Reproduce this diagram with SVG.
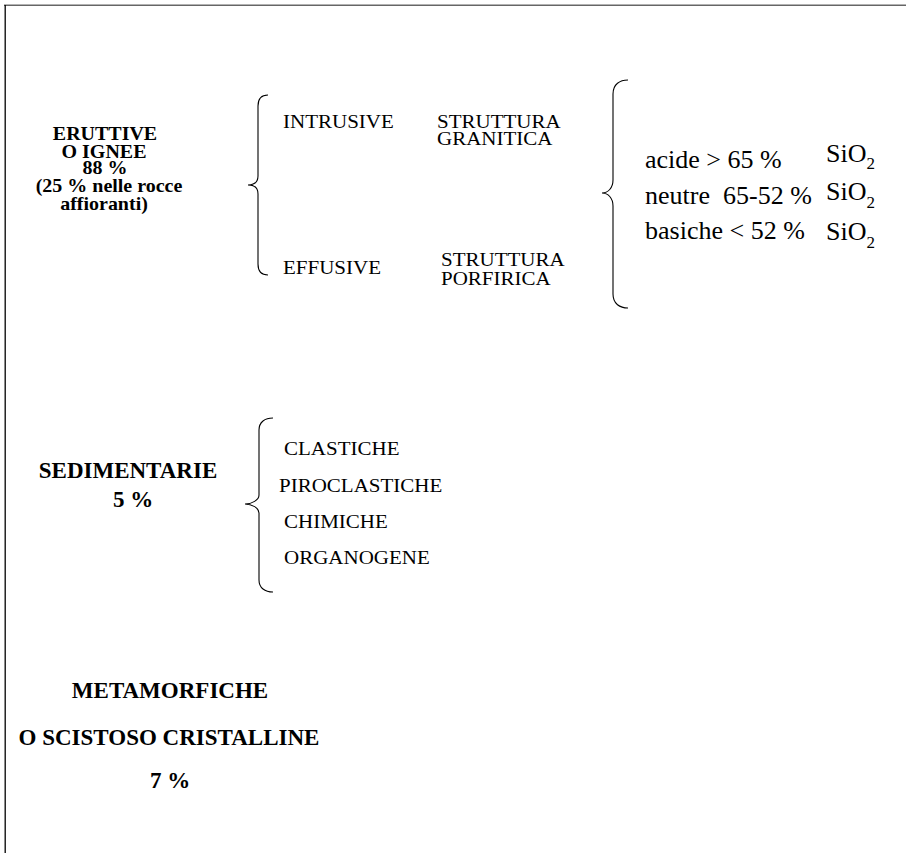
<svg xmlns="http://www.w3.org/2000/svg" width="906" height="853" viewBox="0 0 906 853">
<style>
text{font-family:"Liberation Serif","Times New Roman",serif;fill:#000}
.b{font-weight:bold;font-size:20px;text-anchor:middle}
.bl{font-weight:bold;font-size:23px;text-anchor:middle}
.r{font-size:21px}
.s{font-size:26px}
.sub{font-size:17px}
.brace{fill:none;stroke:#000;stroke-width:1.1}
</style>
<rect width="906" height="853" fill="#fff"/>
<g id="frame">
<line x1="4" y1="5.3" x2="906" y2="5.3" stroke="#666" stroke-width="1.4"/>
<line x1="5.2" y1="5" x2="5.2" y2="853" stroke="#000" stroke-width="1.3"/>
</g>
<g id="connectors">
<path class="brace" d="M268,95 C262,95 258,98 258,106 L258,176 C258,182 254,185 248,185 C254,185 258,188 258,194 L258,264 C258,272 262,275 268,275"/>
<path class="brace" d="M628,80 C620,80 613,84 613,94 L613,180 C613,188 608,193 602,193 C608,193 613,198 613,206 L613,294 C613,304 620,308 628,308"/>
<path class="brace" d="M273,418 C265,418 259,422 259,430 L259,495 C259,500 252,504 245,504 C252,504 259,508 259,513 L259,580 C259,588 265,592 273,592"/>
</g>
<g id="eruttive">
<text class="b" transform="translate(105,140) scale(1,0.92)">ERUTTIVE</text>
<text class="b" transform="translate(104,157.5) scale(1,0.92)">O IGNEE</text>
<text class="b" transform="translate(105,174) scale(1,0.92)">88 %</text>
<text class="b" transform="translate(109,192) scale(1,0.92)">(25 % nelle rocce</text>
<text class="b" transform="translate(104,210) scale(1,0.92)">affioranti)</text>
</g>
<g id="intrusive">
<text class="r" transform="translate(283,128) scale(1,0.9)">INTRUSIVE</text>
</g>
<g id="struttura-granitica">
<text class="r" transform="translate(437,128) scale(1,0.9)">STRUTTURA</text>
<text class="r" transform="translate(437,145) scale(1,0.9)">GRANITICA</text>
</g>
<g id="effusive">
<text class="r" transform="translate(283,274) scale(1,0.9)">EFFUSIVE</text>
</g>
<g id="struttura-porfirica">
<text class="r" transform="translate(441,266) scale(1,0.9)">STRUTTURA</text>
<text class="r" transform="translate(441,285) scale(1,0.9)">PORFIRICA</text>
</g>
<g id="acide">
<text class="s" x="645" y="168">acide &gt; 65 %</text>
<text class="s" x="826" y="162">SiO<tspan class="sub" dy="7">2</tspan></text>
</g>
<g id="neutre">
<text class="s" x="645" y="204">neutre<tspan x="723">65-52 %</tspan></text>
<text class="s" x="826" y="200">SiO<tspan class="sub" dy="8">2</tspan></text>
</g>
<g id="basiche">
<text class="s" x="645" y="239">basiche &lt; 52 %</text>
<text class="s" x="826" y="240">SiO<tspan class="sub" dy="8">2</tspan></text>
</g>
<g id="sedimentarie">
<text class="bl" x="128" y="478">SEDIMENTARIE</text>
<text class="bl" x="133" y="507">5 %</text>
</g>
<g id="clastiche"><text class="r" transform="translate(284,455) scale(1,0.9)">CLASTICHE</text></g>
<g id="piroclastiche"><text class="r" transform="translate(279,492) scale(1,0.9)">PIROCLASTICHE</text></g>
<g id="chimiche"><text class="r" transform="translate(284,528) scale(1,0.9)">CHIMICHE</text></g>
<g id="organogene"><text class="r" transform="translate(284,564) scale(1,0.9)">ORGANOGENE</text></g>
<g id="metamorfiche">
<text class="bl" x="170" y="698">METAMORFICHE</text>
<text class="bl" x="169" y="745">O SCISTOSO CRISTALLINE</text>
<text class="bl" x="170" y="788">7 %</text>
</g>
</svg>
